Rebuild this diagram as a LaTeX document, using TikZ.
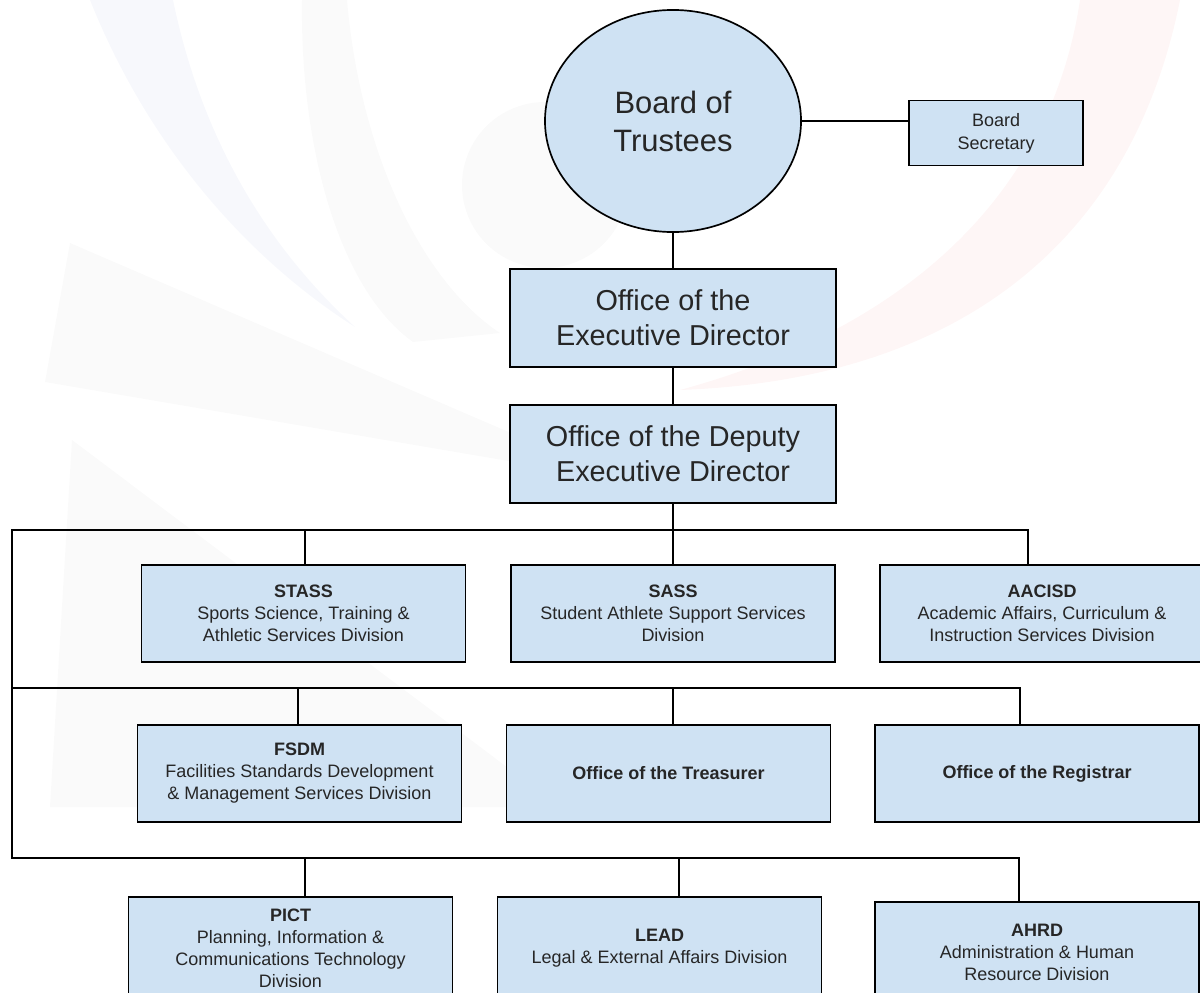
\documentclass[tikz,border=0pt]{standalone}
\usepackage{fontspec}
\setmainfont{Liberation Sans}
\usepackage{xcolor}
\usetikzlibrary{shapes.geometric}

\definecolor{boxblue}{HTML}{CFE2F3}
\definecolor{wmblue}{HTML}{F7F8FC}
\definecolor{wmgrey}{HTML}{FAFAFA}
\definecolor{wmpink}{HTML}{FEF6F6}

\begin{document}
\begin{tikzpicture}[x=0.025cm,y=-0.025cm,
  unit/.style={draw=black,line width=1.2pt,fill=boxblue,align=center,inner sep=0pt,text=black!85},
  topbox/.style={unit,minimum width=8.15cm,minimum height=2.45cm,font=\fontsize{20.5}{24.8}\selectfont},
  divbox/.style={unit,minimum width=8.1cm,minimum height=2.425cm,font=\fontsize{12.8}{15.6}\selectfont},
  link/.style={line width=1.2pt,line cap=rect}]
\useasboundingbox (0,0) rectangle (1200,992);
\clip (0,0) rectangle (1200,992);
% faint logo behind the chart
\fill[wmblue] (90,0) .. controls (150,150) and (250,260) .. (355,327) .. controls (260,240) and (200,130) .. (173,0) -- cycle;
\fill[wmgrey] (302,0) .. controls (300,150) and (340,290) .. (413,342) -- (500,333) .. controls (420,280) and (360,150) .. (347,0) -- cycle;
\fill[wmgrey] (545,185) circle (83);
\fill[wmpink] (1180,0) .. controls (1130,250) and (950,380) .. (680,390) .. controls (900,330) and (1050,200) .. (1080,0) -- cycle;
\fill[wmgrey] (70,243) -- (620,480) -- (45,382) -- cycle;
\fill[wmgrey] (72,440) -- (560,807) -- (50,807) -- cycle;

\node[ellipse,unit,minimum width=6.4cm,minimum height=5.55cm,font=\fontsize{22}{27}\selectfont] (board) at (673,121) {Board of\\Trustees};
\node[unit,minimum width=4.35cm,minimum height=1.625cm,font=\fontsize{12.8}{16.3}\selectfont] (secretary) at (996,133) {Board\\Secretary};
\node[topbox] (exec) at (673,318) {Office of the\\Executive Director};
\node[topbox] (deputy) at (673,454) {Office of the Deputy\\Executive Director};

\node[divbox] (stass) at (303.5,613.5) {\textbf{STASS}\\Sports Science, Training \&\\Athletic Services Division};
\node[divbox] (sass) at (673,613.5) {\textbf{SASS}\\Student Athlete Support Services\\Division};
\node[divbox] (aacisd) at (1042,613.5) {\textbf{AACISD}\\Academic Affairs, Curriculum \&\\Instruction Services Division};

\node[divbox] (fsdm) at (299.5,773.5) {\textbf{FSDM}\\Facilities Standards Development\\\& Management Services Division};
\node[divbox] (treasurer) at (668.5,773.5) {\textbf{Office of the Treasurer}};
\node[divbox] (registrar) at (1037,773.5) {\textbf{Office of the Registrar}};

\node[divbox,minimum height=2.55cm] (pict) at (290.5,948) {\textbf{PICT}\\Planning, Information \&\\Communications Technology\\Division};
\node[divbox,minimum height=2.55cm] (lead) at (659.5,948) {\textbf{LEAD}\\Legal \& External Affairs Division};
\node[divbox,minimum height=2.5cm] (ahrd) at (1037,952) {\textbf{AHRD}\\Administration \& Human\\Resource Division};

\draw[link] (board.south) -- (exec.north);
\draw[link] (exec.south) -- (deputy.north);
\draw[link] (board.east) -- (board.east -| secretary.west);

\coordinate (bus1) at (12,530);
\coordinate (bus2) at (12,688);
\coordinate (bus3) at (12,858);
\foreach \x/\n in {305/stass,673/sass,1028/aacisd}{
\coordinate (\n-top) at (\x,530);
\draw[link] (\n-top) -- (\n-top |- \n.north);
}
\foreach \x/\n in {298/fsdm,673/treasurer,1020/registrar}{
\coordinate (\n-top) at (\x,688);
\draw[link] (\n-top) -- (\n-top |- \n.north);
}
\foreach \x/\n in {305/pict,679/lead,1019/ahrd}{
\coordinate (\n-top) at (\x,858);
\draw[link] (\n-top) -- (\n-top |- \n.north);
}
\draw[link] (deputy.south) -- (sass-top);
\draw[link] (bus1) -- (aacisd-top);
\draw[link] (bus2) -- (registrar-top);
\draw[link] (bus3) -- (ahrd-top);
\draw[link] (bus1) -- (bus3);
\end{tikzpicture}
\end{document}
